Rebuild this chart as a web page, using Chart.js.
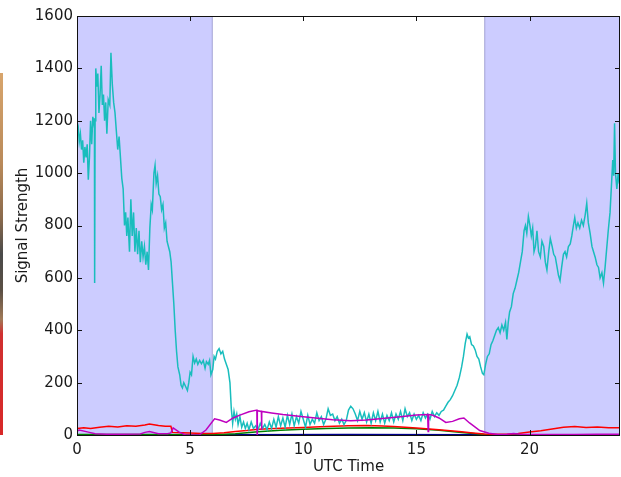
<!DOCTYPE html>
<html>
<head>
<meta charset="utf-8">
<title>Signal Strength</title>
<script src="https://cdn.jsdelivr.net/npm/chart.js@4.4.0/dist/chart.umd.min.js"></script>
<style>
	body{margin:0;background:#fff;}
	.wrap{position:relative;width:621px;height:477px;}
	.edge{position:absolute;left:0;top:73px;width:3px;height:362px;
		background:linear-gradient(#d8a56c 0%,#b98a5a 25%,#8a6a4c 40%,#4a4a4a 50%,#5a4f44 60%,#a07a58 68%,#d03030 72%,#d82828 100%);}
</style>
</head>
<body>
<div class="wrap">
	<canvas id="chart" width="621" height="477"></canvas>
	<div class="edge"></div>
</div>
<script>
// axis ticks
var xTicks=[0,5,10,15,20];
var yTicks=[0,200,400,600,800,1000,1200,1400,1600];

// night-time bands (UTC hours)
var nightStart=[0,18];
var nightEnd=[6,24];

// cyan station
var cyanHours=[0.00,0.05,0.10,0.15,0.20,0.25,0.30,0.35,0.40,0.45,0.50,0.55,0.60,0.65,0.70,0.74,0.77,0.78,0.80,0.83,
	0.88,0.92,0.97,1.02,1.07,1.12,1.17,1.22,1.27,1.32,1.38,1.45,1.50,1.56,1.62,1.68,1.74,1.80,1.86,1.92,
	1.98,2.04,2.10,2.15,2.20,2.25,2.32,2.38,2.44,2.50,2.56,2.62,2.68,2.74,2.80,2.86,2.92,2.98,3.04,3.10,
	3.16,3.22,3.28,3.33,3.40,3.45,3.50,3.56,3.62,3.68,3.74,3.80,3.86,3.92,3.98,4.04,4.10,4.16,4.22,4.28,
	4.34,4.40,4.46,4.54,4.60,4.66,4.72,4.80,4.88,4.94,5.00,5.06,5.13,5.20,5.27,5.34,5.42,5.50,5.58,5.66,
	5.72,5.80,5.86,5.92,6.00,6.06,6.12,6.20,6.28,6.36,6.44,6.52,6.60,6.68,6.76,6.82,6.88,6.94,7.00,7.06,
	7.12,7.20,7.28,7.36,7.44,7.52,7.60,7.70,7.80,7.90,8.00,8.10,8.20,8.30,8.40,8.50,8.60,8.70,8.80,8.90,
	9.00,9.10,9.20,9.30,9.40,9.50,9.60,9.70,9.80,9.90,10.00,10.10,10.20,10.30,10.40,10.50,10.60,10.70,10.80,10.90,
	11.00,11.10,11.20,11.30,11.40,11.50,11.60,11.70,11.80,11.90,12.00,12.10,12.20,12.30,12.40,12.50,12.60,12.70,12.80,12.90,
	13.00,13.10,13.20,13.30,13.40,13.50,13.60,13.70,13.80,13.90,14.00,14.10,14.20,14.30,14.40,14.50,14.60,14.70,14.80,14.90,
	15.00,15.10,15.20,15.30,15.40,15.50,15.60,15.70,15.80,15.90,16.00,16.10,16.20,16.30,16.40,16.50,16.60,16.70,16.80,16.90,
	17.00,17.08,17.16,17.24,17.30,17.36,17.44,17.52,17.60,17.68,17.76,17.84,17.92,17.98,18.06,18.14,18.22,18.30,18.38,18.46,
	18.54,18.62,18.70,18.78,18.86,18.94,19.00,19.06,19.12,19.20,19.28,19.36,19.44,19.52,19.60,19.68,19.76,19.82,19.88,19.95,
	20.02,20.08,20.14,20.20,20.26,20.33,20.40,20.48,20.55,20.63,20.70,20.77,20.85,20.92,21.00,21.07,21.14,21.22,21.28,21.35,
	21.42,21.50,21.57,21.64,21.72,21.80,21.87,21.94,22.00,22.07,22.14,22.22,22.30,22.38,22.46,22.53,22.60,22.68,22.76,22.83,
	22.90,22.98,23.05,23.12,23.20,23.27,23.34,23.40,23.48,23.56,23.62,23.68,23.72,23.76,23.80,23.86,23.92,23.97];
var cyanValues=[1196,1180,1120,1150,1090,1125,1040,1100,1060,1110,975,1060,1200,1110,1215,1190,1210,580,1200,1400,
	1330,1380,1230,1300,1410,1260,1300,1200,1270,1150,1280,1260,1460,1340,1270,1230,1160,1090,1140,1060,
	980,940,800,850,760,830,700,900,760,850,700,790,690,780,660,740,680,720,650,700,
	630,790,880,860,1000,1030,960,990,920,910,860,880,790,810,740,720,700,660,580,500,
	400,320,260,230,190,180,200,185,170,200,240,230,300,275,290,270,285,272,285,255,
	280,270,285,230,250,300,290,320,330,310,320,290,270,250,200,100,45,90,60,80,
	40,70,30,50,25,45,20,50,25,35,20,45,25,40,20,50,25,60,30,70,
	35,65,30,75,40,80,35,70,45,90,60,30,75,40,60,45,85,55,70,40,
	60,100,75,80,55,70,45,60,40,55,95,110,100,80,55,90,60,85,50,80,
	45,85,55,90,50,80,45,75,55,85,50,80,60,90,55,100,70,85,55,80,
	60,75,55,85,65,80,60,90,70,85,75,90,95,110,125,135,150,170,190,220,
	260,300,350,385,370,375,345,340,325,300,290,260,235,230,270,300,310,345,360,380,
	400,410,390,420,400,430,365,430,470,490,540,560,590,620,660,700,780,800,770,835,
	800,760,790,700,720,780,700,680,740,720,660,630,700,750,720,690,680,640,610,590,
	640,690,700,680,720,730,760,800,830,790,810,790,820,800,840,885,810,770,720,700,
	680,650,640,600,620,580,640,700,780,850,950,1050,990,1190,1000,940,1000,960];

// red station
var redHours=[0,0.3,0.6,1.0,1.4,1.8,2.2,2.6,3.0,3.2,3.6,3.9,4.15,4.22,4.6,5.0,5.5,6.0,6.5,7.0,
	7.5,8.0,9.0,10.0,11.0,12.0,12.8,13.5,14.0,15.0,16.0,17.0,17.5,18.0,18.5,19.0,19.5,20.0,20.5,21.0,
	21.5,22.0,22.5,23.0,23.5,24.0];
var redValues=[25,28,25,30,33,31,35,33,38,42,36,33,33,10,9,8,6,6,9,13,
	17,22,26,29,32,35,36,34,32,27,20,12,8,4,3,3,6,11,16,23,
	30,32,29,31,28,28];

// magenta station
var magentaHours=[0,0.1,0.5,0.8,1.3,2.0,2.8,3.0,3.2,3.6,4.0,4.15,4.25,4.5,4.8,5.4,5.7,6.08,6.3,6.6,
	6.9,7.2,7.6,7.95,7.96,7.97,8.15,8.16,8.17,8.6,9.1,10.0,11.3,12.1,12.8,14.3,15.0,15.5,15.52,15.54,
	15.7,16.0,16.3,16.6,16.9,17.1,17.35,17.6,17.8,18.2,18.6,19.0,19.3,19.6,20.0,21.0,22.0,23.0,24.0];
var magentaValues=[15,19,11,5,3,3,4,10,13,5,5,8,27,12,0,0,19,62,57,48,
	65,76,89,95,0,93,90,20,90,84,78,70,58,54,57,70,76,78,13,78,
	76,65,48,52,62,65,46,30,17,7,2,3,6,3,2,2,2,3,3];

// green station
var greenHours=[0,3,6,7,8,9,10,11,12,13,14,15,16,17,17.5,18,18.5,24];
var greenValues=[2,2,1,5,12,18,22,25,27,28,27,24,18,10,6,2,0,0];

// blue station
var blueHours=[0,6,12,18,24];
var blueValues=[1,1,2,1,1];

function toPoints(hours, values){
	var pts=[];
	for(var i=0; i<hours.length; i++){
		pts.push({x:hours[i], y:values[i]});
	}
	return pts;
}

function series(label, hours, values, color){
	return {
		label:label,
		data:toPoints(hours, values),
		borderColor:color,
		borderWidth:1.5,
		pointRadius:0,
		tension:0,
		fill:false
	};
}

// shaded night bands behind the lines
var nightBands={
	id:'nightBands',
	beforeDatasetsDraw:function(chart){
		var ctx=chart.ctx;
		var area=chart.chartArea;
		var x=chart.scales.x;
		ctx.save();
		for(var i=0; i<nightStart.length; i++){
			var x0=x.getPixelForValue(nightStart[i]);
			var x1=x.getPixelForValue(nightEnd[i]);
			ctx.fillStyle='#ccccff';
			ctx.fillRect(x0, area.top, x1-x0, area.bottom-area.top);
			ctx.strokeStyle='rgba(120,120,160,0.45)';
			ctx.lineWidth=1;
			ctx.strokeRect(x0+0.5, area.top+0.5, x1-x0-1, area.bottom-area.top-1);
		}
		ctx.restore();
	}
};

// box frame with inward tick marks on all four sides
var frame={
	id:'frame',
	afterDatasetsDraw:function(chart){
		var ctx=chart.ctx;
		var a=chart.chartArea;
		var xs=chart.scales.x, ys=chart.scales.y;
		var len=5;
		ctx.save();
		ctx.strokeStyle='#111';
		ctx.lineWidth=1;
		ctx.beginPath();
		xs.ticks.forEach(function(t){
			var px=Math.round(xs.getPixelForValue(t.value))+0.5;
			ctx.moveTo(px, a.bottom); ctx.lineTo(px, a.bottom-len);
			ctx.moveTo(px, a.top); ctx.lineTo(px, a.top+len);
		});
		ys.ticks.forEach(function(t){
			var py=Math.round(ys.getPixelForValue(t.value))+0.5;
			ctx.moveTo(a.left, py); ctx.lineTo(a.left+len, py);
			ctx.moveTo(a.right, py); ctx.lineTo(a.right-len, py);
		});
		ctx.stroke();
		ctx.strokeRect(Math.round(a.left)+0.5, Math.round(a.top)+0.5, Math.round(a.right-a.left)-1, Math.round(a.bottom-a.top));
		ctx.restore();
	}
};

var font={family:'"DejaVu Sans", sans-serif', size:15};

function plainNumber(v){
	return String(v);
}

var ctx=document.getElementById('chart');
var mc=new Chart(ctx, {
	type:'line',
	data:{
		datasets:[
			series('m', magentaHours, magentaValues, '#bf00bf'),
			series('c', cyanHours, cyanValues, '#19bdbd'),
			series('r', redHours, redValues, '#ff0000'),
			series('g', greenHours, greenValues, '#008000'),
			series('b', blueHours, blueValues, '#00008b')
		]
	},
	options:{
		responsive:false,
		animation:false,
		layout:{padding:{left:0, right:1, top:16, bottom:0}},
		plugins:{legend:{display:false}, tooltip:{enabled:false}},
		scales:{
			x:{
				type:'linear', min:0, max:24,
				afterBuildTicks:function(s){ s.ticks=xTicks.map(function(v){ return {value:v}; }); },
				afterFit:function(s){ s.height=42; },
				grid:{display:false, drawTicks:false},
				border:{display:false},
				ticks:{color:'#1a1a1a', font:font, padding:6, maxRotation:0, callback:plainNumber},
				title:{display:true, text:'UTC Time', color:'#1a1a1a', font:font, padding:{top:0, bottom:1}}
			},
			y:{
				type:'linear', min:0, max:1600,
				afterBuildTicks:function(s){ s.ticks=yTicks.map(function(v){ return {value:v}; }); },
				afterFit:function(s){ s.width=77; },
				grid:{display:false, drawTicks:false},
				border:{display:false},
				ticks:{color:'#1a1a1a', font:font, padding:4, callback:plainNumber},
				title:{display:true, text:'Signal Strength', color:'#1a1a1a', font:font, padding:{top:14, bottom:0}}
			}
		}
	},
	plugins:[nightBands, frame]
});
</script>
</body>
</html>
